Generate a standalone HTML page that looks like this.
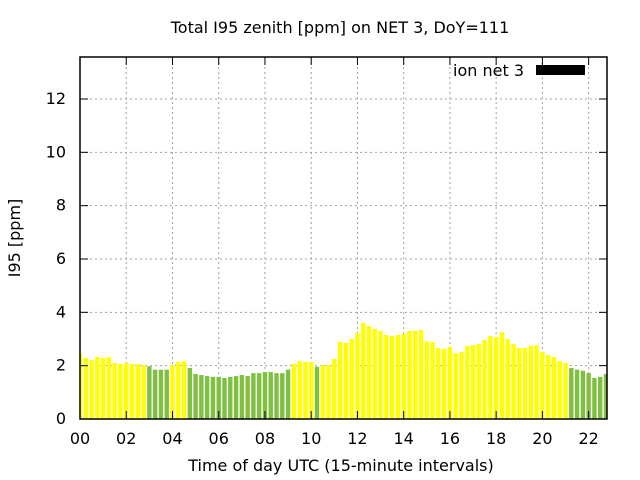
<!DOCTYPE html>
<html><head><meta charset="utf-8"><style>body{margin:0;background:#fff}svg{display:block}text{font-family:"DejaVu Sans","Liberation Sans",sans-serif;font-size:16px;fill:#000}</style></head><body>
<svg id="s" width="640" height="480" xmlns="http://www.w3.org/2000/svg">
<defs><clipPath id="c"><rect x="80" y="57" width="527" height="362"/></clipPath></defs>
<text x="340" y="33" text-anchor="middle">Total I95 zenith [ppm] on NET 3, DoY=111</text>
<g id="grid" stroke="#a0a0a0" stroke-dasharray="2,3" stroke-width="1"></g>
<g id="bars" clip-path="url(#c)"></g>
<rect x="80" y="57" width="527" height="362" fill="none" stroke="#000" stroke-width="1.5"/>
<g id="ticks" stroke="#000" stroke-width="1"></g>
<g id="labels"></g>
<text x="524" y="76" text-anchor="end">ion net 3</text>
<rect x="536" y="65" width="49" height="10" fill="#000"/>
<text transform="translate(20,238) rotate(-90)" text-anchor="middle">I95 [ppm]</text>
<text x="341" y="471" text-anchor="middle">Time of day UTC (15-minute intervals)</text>
</svg>
<script>
var v=[2.46,2.29,2.21,2.32,2.29,2.32,2.1,2.06,2.1,2.06,2.06,2.02,1.98,1.85,1.85,1.85,2.02,2.14,2.17,1.91,1.69,1.65,1.61,1.58,1.58,1.54,1.58,1.61,1.65,1.61,1.72,1.72,1.76,1.76,1.72,1.72,1.85,2.06,2.17,2.14,2.14,1.96,2.02,2.02,2.25,2.89,2.85,3.0,3.22,3.6,3.49,3.38,3.3,3.15,3.11,3.15,3.19,3.3,3.3,3.34,2.92,2.89,2.66,2.62,2.7,2.47,2.51,2.74,2.77,2.81,2.96,3.11,3.07,3.26,3.0,2.81,2.66,2.66,2.74,2.77,2.51,2.4,2.32,2.17,2.1,1.91,1.85,1.81,1.72,1.54,1.58,1.69];
var ns="http://www.w3.org/2000/svg";
function el(p,t,a,tx){var e=document.createElementNS(ns,t);for(var k in a)e.setAttribute(k,a[k]);if(tx)e.textContent=tx;document.getElementById(p).appendChild(e);}
var s=26.667,dx=5.78;
v.forEach(function(y,i){var cx=80+dx*i,h=y*s;el("bars","rect",{x:cx-2.2,y:419-h,width:4.4,height:h,fill:y<2?"#80c040":"#ffff00"});});
for(var k=1;k<=6;k++){var y=419-2*k*s;el("grid","line",{x1:80,x2:607,y1:y,y2:y});}
for(var h=2;h<=22;h+=2){var x=80+h*4*dx;el("grid","line",{x1:x,x2:x,y1:57,y2:419});}
for(var k=0;k<=6;k++){var y=419-2*k*s;el("ticks","line",{x1:80,x2:88,y1:y,y2:y});el("ticks","line",{x1:599,x2:607,y1:y,y2:y});el("labels","text",{x:66,y:y+5,"text-anchor":"end"},String(2*k));}
for(var h=0;h<=22;h+=2){var x=80+h*4*dx;el("ticks","line",{x1:x,x2:x,y1:419,y2:411});el("ticks","line",{x1:x,x2:x,y1:57,y2:65});el("labels","text",{x:x,y:444,"text-anchor":"middle"},(h<10?"0":"")+h);}
</script>
</body></html>
